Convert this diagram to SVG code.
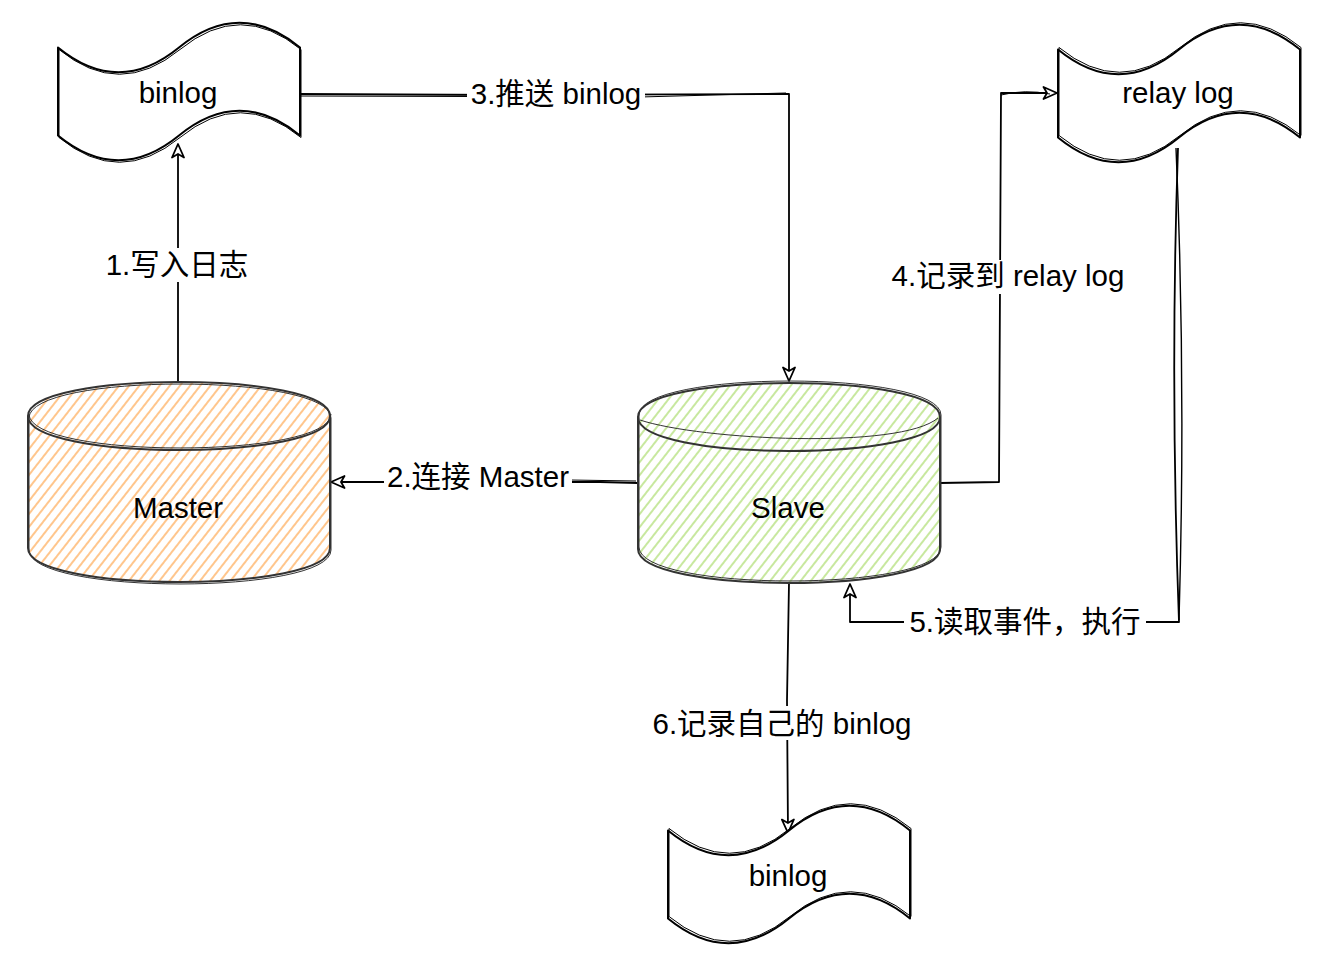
<svg xmlns="http://www.w3.org/2000/svg" width="1328" height="962" viewBox="0 0 1328 962">
<style>
.t{font-family:"Liberation Sans","Noto Sans CJK SC",sans-serif;font-size:29.5px;fill:#000;text-anchor:middle}
.tape{fill:#fff;stroke:#000;stroke-width:2;stroke-linejoin:round}
.tape2{fill:none;stroke:#000;stroke-width:1}
.cyl{stroke:#333;stroke-width:2;stroke-linejoin:round}
.cyl2{fill:none;stroke:#333;stroke-width:1}
.e{fill:none;stroke:#000;stroke-width:1.8;stroke-linejoin:round}
.bg{fill:#fff}
</style>
<defs>
<pattern id="hOrange" patternUnits="userSpaceOnUse" width="8" height="9" patternTransform="rotate(38)">
<line x1="2" y1="0" x2="2" y2="9" stroke="#ffb366" stroke-width="1.5"/>
</pattern>
<pattern id="hGreen" patternUnits="userSpaceOnUse" width="8" height="9" patternTransform="rotate(38)">
<line x1="2" y1="0" x2="2" y2="9" stroke="#b5e07f" stroke-width="1.5"/>
</pattern>
<path id="tapeP" d="M0,27.5 Q60.5,77 121,27.5 Q181.5,-22 242,27.5 L242,115.5 Q181.5,66 121,115.5 Q60.5,165 0,115.5 Z"/>
<path id="cylBody" d="M0,34 C0,-11.3 302,-11.3 302,34 L302,166 C302,211.3 0,211.3 0,166 Z"/>
<path id="cylFront" d="M0,34 C0,79.3 302,79.3 302,34"/>
<marker id="arr" viewBox="0 0 16 16" refX="15" refY="8" markerWidth="16" markerHeight="16" markerUnits="userSpaceOnUse" orient="auto">
<path d="M1.5,2 L15,8 L1.5,14 L5,8 Z" fill="#fff" stroke="#000" stroke-width="1.8" stroke-linejoin="round"/>
</marker>
</defs>

<g id="edges">
<g id="e1">
<path class="e" d="M178,382 L178,144" marker-end="url(#arr)"/>
<rect class="bg" x="104" y="248" width="148" height="34"/>
<text class="t" x="177" y="275">1.写入日志</text>
</g>
<g id="e2">
<path class="e" d="M638,483 L600,482 L331,482" marker-end="url(#arr)"/>
<path class="e" style="stroke-width:1" d="M636,481 L570,480"/>
<rect class="bg" x="384" y="460" width="188" height="34"/>
<text class="t" x="478" y="487">2.连接 Master</text>
</g>
<g id="e3">
<path class="e" d="M300,94 L500,95 L789,94 L789,381" marker-end="url(#arr)"/>
<path class="e" style="stroke-width:1" d="M300,96 L640,97 L786,93"/>
<rect class="bg" x="467" y="78" width="178" height="34"/>
<text class="t" x="556" y="104">3.推送 binlog</text>
</g>
<g id="e4">
<path class="e" d="M940,483 L999,482 L1001,93 L1057,93" marker-end="url(#arr)"/>
<path class="e" style="stroke-width:1" d="M1001,95 Q1025,89 1050,94"/>
<rect class="bg" x="889" y="260" width="240" height="34"/>
<text class="t" x="1008" y="286">4.记录到 relay log</text>
</g>
<g id="e5">
<path class="e" d="M1178,148 Q1170,380 1179,622 L850,622 L850,584" marker-end="url(#arr)"/>
<path class="e" style="stroke-width:1.4" d="M1176,148 Q1186,380 1179,620"/>
<rect class="bg" x="904" y="604" width="242" height="34"/>
<text class="t" x="1025" y="632">5.读取事件，执行</text>
</g>
<g id="e6">
<path class="e" d="M789,583 L787,700 L788,833" marker-end="url(#arr)"/>
<rect class="bg" x="648" y="706" width="268" height="34"/>
<text class="t" x="782" y="734">6.记录自己的 binlog</text>
</g>
</g>

<g id="binlog-master">
<use href="#tapeP" class="tape" transform="translate(58,20)"/>
<use href="#tapeP" class="tape2" transform="translate(59,22)"/>
<text class="t" x="178" y="103">binlog</text>
</g>

<g id="relay-log">
<use href="#tapeP" class="tape" transform="translate(1058,22)"/>
<use href="#tapeP" class="tape2" transform="translate(1059,20)"/>
<text class="t" x="1178" y="103">relay log</text>
</g>

<g id="binlog-slave">
<use href="#tapeP" class="tape" transform="translate(668,803)"/>
<use href="#tapeP" class="tape2" transform="translate(669,801)"/>
<text class="t" x="788" y="886">binlog</text>
</g>

<g id="master">
<use href="#cylBody" fill="#fff" stroke="none" transform="translate(28,382)"/>
<use href="#cylBody" fill="url(#hOrange)" class="cyl" transform="translate(28,382)"/>
<use href="#cylBody" class="cyl2" transform="translate(29,384)"/>
<use href="#cylFront" class="cyl" fill="none" transform="translate(28,382)"/>
<use href="#cylFront" class="cyl2" transform="translate(29,380)"/>
<text class="t" x="178" y="518">Master</text>
</g>

<g id="slave">
<use href="#cylBody" fill="#fff" stroke="none" transform="translate(638,383)"/>
<use href="#cylBody" fill="url(#hGreen)" class="cyl" transform="translate(638,383)"/>
<use href="#cylBody" class="cyl2" transform="translate(639,381)"/>
<use href="#cylFront" class="cyl" fill="none" transform="translate(638,383)"/>
<path class="cyl2" d="M640,420 C700,440 900,450 938,418"/>
<text class="t" x="788" y="518">Slave</text>
</g>
</svg>
